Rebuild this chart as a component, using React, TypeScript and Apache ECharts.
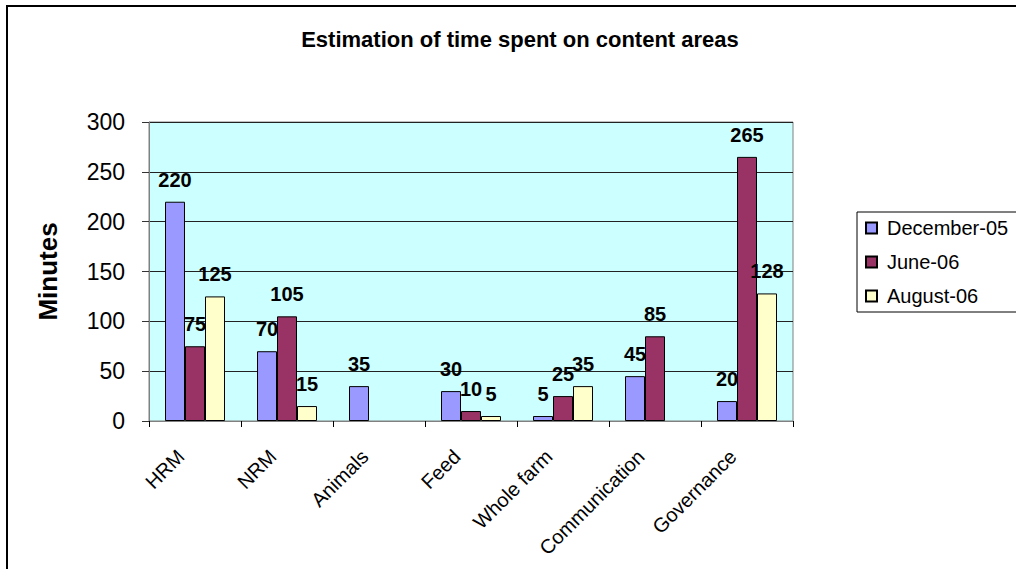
import React, { useEffect, useRef } from "react";
import * as echarts from "echarts";

// Content areas along the category axis
const categories = ["HRM", "NRM", "Animals", "Feed", "Whole farm", "Communication", "Governance"];

// Minutes spent per content area in each period (null = no bar)
const december05 = [220, 70, 35, 30, 5, 45, 20];
const june06 = [75, 105, null, 10, 25, 85, 265];
const august06 = [125, 15, null, 5, 35, null, 128];

const seriesNames = ["December-05", "June-06", "August-06"];
const seriesColors = ["#9999FF", "#993366", "#FFFFCC"];

const titleText = "Estimation of time spent on content areas";
const yAxisName = "Minutes";

const FONT = "Liberation Sans, Arial, Helvetica, sans-serif";

export default function App() {
  const ref = useRef<HTMLDivElement>(null);

  useEffect(() => {
    if (!ref.current) return;
    const chart = echarts.init(ref.current, null, { renderer: "svg" });

    const dataSets = [december05, june06, august06];

    chart.setOption({
      animation: false,
      backgroundColor: "#ffffff",
      textStyle: { fontFamily: FONT },
      title: {
        text: titleText,
        left: 515,
        top: 23,
        textAlign: "center",
        textStyle: { fontFamily: FONT, fontWeight: "bold", fontSize: 22, color: "#000" },
      },
      legend: {
        orient: "vertical",
        left: 857,
        top: 212,
        padding: [6, 40, 6, 8],
        itemGap: 14,
        itemWidth: 11,
        itemHeight: 11,
        borderColor: "#000",
        borderWidth: 1,
        icon: "rect",
        textStyle: { fontFamily: FONT, fontSize: 20, color: "#000", padding: [0, 0, 0, 5] },
        data: seriesNames,
      },
      graphic: [
        {
          type: "rect",
          shape: { x: 7, y: 6, width: 1300, height: 900 },
          style: { fill: "none", stroke: "#000", lineWidth: 2 },
          silent: true,
          z: 100,
        },
      ],
      grid: {
        left: 149,
        right: 223,
        top: 122,
        bottom: 148,
        show: true,
        backgroundColor: "#CCFFFF",
        borderColor: "#808080",
        borderWidth: 1,
      },
      xAxis: {
        type: "category",
        data: categories,
        axisLine: { lineStyle: { color: "#808080", width: 1 } },
        axisTick: { show: true, alignWithLabel: false, length: 6, lineStyle: { color: "#000" } },
        axisLabel: {
          rotate: 45,
          interval: 0,
          margin: 18,
          padding: [0, 20, 0, 0],
          fontFamily: FONT,
          fontSize: 20,
          color: "#000",
        },
      },
      yAxis: {
        type: "value",
        min: 0,
        max: 300,
        interval: 50,
        name: yAxisName,
        nameLocation: "middle",
        nameGap: 88,
        nameTextStyle: { fontFamily: FONT, fontWeight: "bold", fontSize: 26, color: "#000" },
        axisLine: { show: true, lineStyle: { color: "#808080", width: 1 } },
        axisTick: { show: true, length: 7, lineStyle: { color: "#333" } },
        axisLabel: { margin: 24, fontFamily: FONT, fontSize: 23, color: "#000" },
        splitLine: { show: true, lineStyle: { color: "#222", width: 1 } },
      },
      series: dataSets.map((d, i) => ({
        name: seriesNames[i],
        type: "bar",
        data: d,
        barWidth: 20,
        barGap: "0%",
        itemStyle: { color: seriesColors[i], borderColor: "#000", borderWidth: 1 },
        label: {
          show: true,
          position: "top",
          distance: 12,
          fontFamily: FONT,
          fontWeight: "bold",
          fontSize: 20,
          color: "#000",
        },
      })),
    });

    return () => chart.dispose();
  }, []);

  return (
    <div
      ref={ref}
      style={{ position: "absolute", left: 0, top: 0, width: 1016, height: 569 }}
    />
  );
}
